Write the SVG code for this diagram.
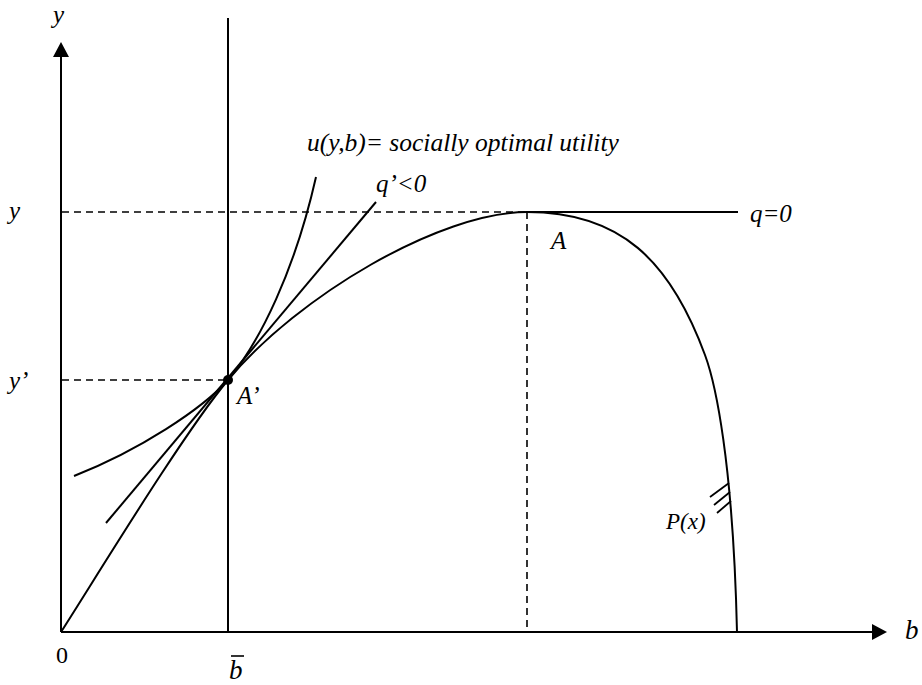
<svg xmlns="http://www.w3.org/2000/svg" width="922" height="685" viewBox="0 0 922 685">
<style>
.ln{fill:none;stroke:#000;stroke-width:2}
.ds{fill:none;stroke:#000;stroke-width:1.6;stroke-dasharray:7,5}
text{font-family:"Liberation Serif","DejaVu Serif",serif;fill:#000}
.t{font-style:italic;font-size:25px}
.n{font-size:24px}
</style>
<g id="axes">
<line class="ln" x1="61" y1="632" x2="61" y2="56"/>
<path d="M53,57 L61,42 L69,57 Z" fill="#000"/>
<line class="ln" x1="61" y1="632" x2="874" y2="632"/>
<path d="M872,624 L887,632 L872,640 Z" fill="#000"/>
</g>
<g id="guides">
<line class="ln" x1="228" y1="18" x2="228" y2="632"/>
<line class="ds" x1="62" y1="212" x2="527" y2="212"/>
<line class="ln" x1="527" y1="212" x2="738" y2="212"/>
<line class="ds" x1="527" y1="212" x2="527" y2="632"/>
<line class="ds" x1="62" y1="380" x2="228" y2="380"/>
</g>
<g id="curves">
<path id="P" class="ln" d="M61,632 C100,571 183,434 228,380 C298,296 440,212 527,212 C620,212 670,260 705,355 C715,382 733,460 737,632"/>
<path id="u" class="ln" d="M74,476 C140,450 202,409 228,380 C260,342 295,270 316,177"/>
<line id="tangent" class="ln" x1="106" y1="523" x2="376" y2="202"/>
<g id="hatch" class="ln" style="stroke-width:1.8">
<line x1="710" y1="497" x2="729" y2="483"/>
<line x1="714" y1="505" x2="730" y2="492"/>
<line x1="717" y1="513" x2="731" y2="501"/>
</g>
<circle id="Aprime" cx="228" cy="380" r="5" fill="#000"/>
</g>
<g id="labels">
<text class="t" x="53" y="23">y</text>
<text class="t" x="9" y="219">y</text>
<text class="t" x="9" y="389">y’</text>
<text class="n" x="56" y="663">0</text>
<text class="t" x="229" y="679" style="font-size:27px">b</text>
<line x1="231" y1="656" x2="244" y2="656" stroke="#000" stroke-width="1.6"/>
<text class="t" x="905" y="639" style="font-size:27px">b</text>
<text class="t" x="307" y="151" style="font-size:25.5px">u(y,b)= socially optimal utility</text>
<text class="t" x="376" y="192">q’&lt;0</text>
<text class="t" x="750" y="222">q=0</text>
<text class="t" x="551" y="249">A</text>
<text class="t" x="237" y="404">A’</text>
<text class="t" x="666" y="529" style="font-size:23px">P(x)</text>
</g>
</svg>
